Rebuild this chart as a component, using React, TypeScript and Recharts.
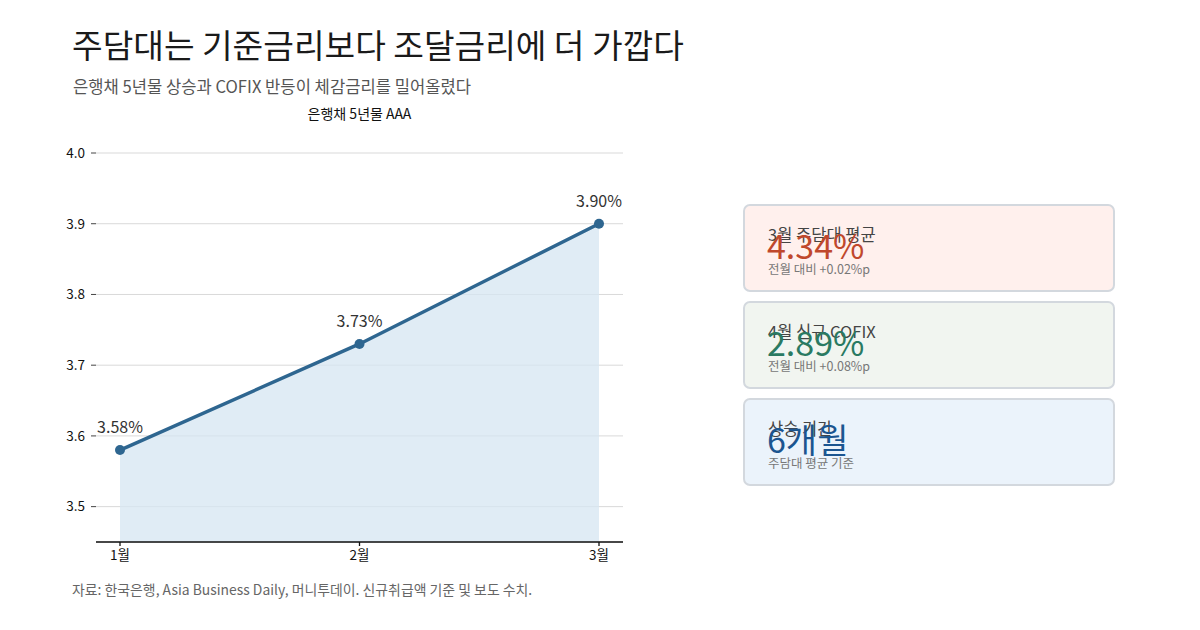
import React from "react";
import {
  Area,
  AreaChart,
  CartesianGrid,
  LabelList,
  XAxis,
  YAxis,
} from "recharts";

const months = ["1월", "2월", "3월"];
const bondYield = [3.58, 3.73, 3.9];
const yTicks = [3.5, 3.6, 3.7, 3.8, 3.9, 4.0];

const cardLabels = ["3월 주담대 평균", "4월 신규 COFIX", "상승 기간"];
const cardValues = ["4.34%", "2.89%", "6개월"];
const cardNotes = ["전월 대비 +0.02%p", "전월 대비 +0.08%p", "주담대 평균 기준"];

const CARD_BG = ["#fff0ed", "#f1f5f0", "#ebf3fb"];
const CARD_FG = ["#c0482c", "#2a7a62", "#1b5590"];

const FONT = '"Noto Sans CJK KR", "Noto Sans", sans-serif';
const LINE = "#2e6690";

const data = months.map((m, i) => ({ month: m, value: bondYield[i] }));

const Card = ({ i }: { i: number }) => {
  const top = 204 + i * 97;
  return (
    <div
      style={{
        position: "absolute",
        left: 743,
        top,
        width: 368,
        height: 84,
        background: CARD_BG[i],
        border: "2px solid #d3d8de",
        borderRadius: 7,
      }}
    >
      <div
        style={{
          position: "absolute",
          left: 23,
          top: 17,
          fontSize: 16.5,
          color: "#444",
          lineHeight: "22px",
          whiteSpace: "nowrap",
        }}
      >
        {cardLabels[i]}
      </div>
      <div
        style={{
          position: "absolute",
          left: 22,
          top: 17,
          fontSize: 34,
          color: CARD_FG[i],
          lineHeight: "44px",
          whiteSpace: "nowrap",
        }}
      >
        {cardValues[i]}
      </div>
      <div
        style={{
          position: "absolute",
          left: 23,
          top: 55,
          fontSize: 12.5,
          color: "#777",
          lineHeight: "16px",
          whiteSpace: "nowrap",
        }}
      >
        {cardNotes[i]}
      </div>
    </div>
  );
};

export default function App() {
  return (
    <div
      style={{
        position: "absolute",
        left: 0,
        top: 0,
        width: 1200,
        height: 630,
        background: "#fff",
        fontFamily: FONT,
        overflow: "hidden",
      }}
    >
      <div
        style={{
          position: "absolute",
          left: 72,
          top: 22,
          fontSize: 33.3,
          color: "#1a1a1a",
          lineHeight: "44px",
          whiteSpace: "nowrap",
        }}
      >
        주담대는 기준금리보다 조달금리에 더 가깝다
      </div>
      <div
        style={{
          position: "absolute",
          left: 73,
          top: 74,
          fontSize: 16.6,
          color: "#555",
          lineHeight: "24px",
          whiteSpace: "nowrap",
        }}
      >
        은행채 5년물 상승과 COFIX 반등이 체감금리를 밀어올렸다
      </div>
      <div
        style={{
          position: "absolute",
          left: 96,
          width: 527,
          top: 103,
          fontSize: 14,
          color: "#111",
          lineHeight: "20px",
          textAlign: "center",
        }}
      >
        은행채 5년물 AAA
      </div>

      <div style={{ position: "absolute", left: 0, top: 0 }}>
        <AreaChart
          width={700}
          height={600}
          data={data}
          margin={{ top: 153, right: 77, bottom: 28, left: 0 }}
        >
          <CartesianGrid vertical={false} stroke="#d9d9d9" strokeWidth={1} />
          <XAxis
            dataKey="month"
            padding={{ left: 24, right: 24 }}
            height={30}
            stroke="#111"
            strokeWidth={1.3}
            tickSize={4}
            tickMargin={4}
            tick={{ fontSize: 13.5, fill: "#111", fontFamily: FONT }}
          />
          <YAxis
            width={96}
            domain={[3.45, 4.0]}
            ticks={yTicks}
            axisLine={false}
            tickSize={5}
            tickMargin={6}
            stroke="#444"
            tickFormatter={(v: number) => v.toFixed(1)}
            tick={{ fontSize: 13.5, fill: "#111", fontFamily: FONT }}
            allowDataOverflow
          />
          <Area
            type="linear"
            dataKey="value"
            stroke={LINE}
            strokeWidth={3.5}
            fill="#d6e5f2"
            fillOpacity={0.75}
            dot={{ r: 5, fill: LINE, stroke: LINE, strokeWidth: 0, fillOpacity: 1 }}
            activeDot={false}
            isAnimationActive={false}
          >
            <LabelList
              dataKey="value"
              position="top"
              offset={17}
              formatter={(v: number) => `${v.toFixed(2)}%`}
              style={{ fontSize: 16, fill: "#333", fontFamily: FONT }}
            />
          </Area>
        </AreaChart>
      </div>

      {[0, 1, 2].map((i) => (
        <Card key={i} i={i} />
      ))}

      <div
        style={{
          position: "absolute",
          left: 72,
          top: 579,
          fontSize: 13.9,
          color: "#666",
          lineHeight: "20px",
          whiteSpace: "nowrap",
        }}
      >
        자료: 한국은행, Asia Business Daily, 머니투데이. 신규취급액 기준 및 보도 수치.
      </div>
    </div>
  );
}
